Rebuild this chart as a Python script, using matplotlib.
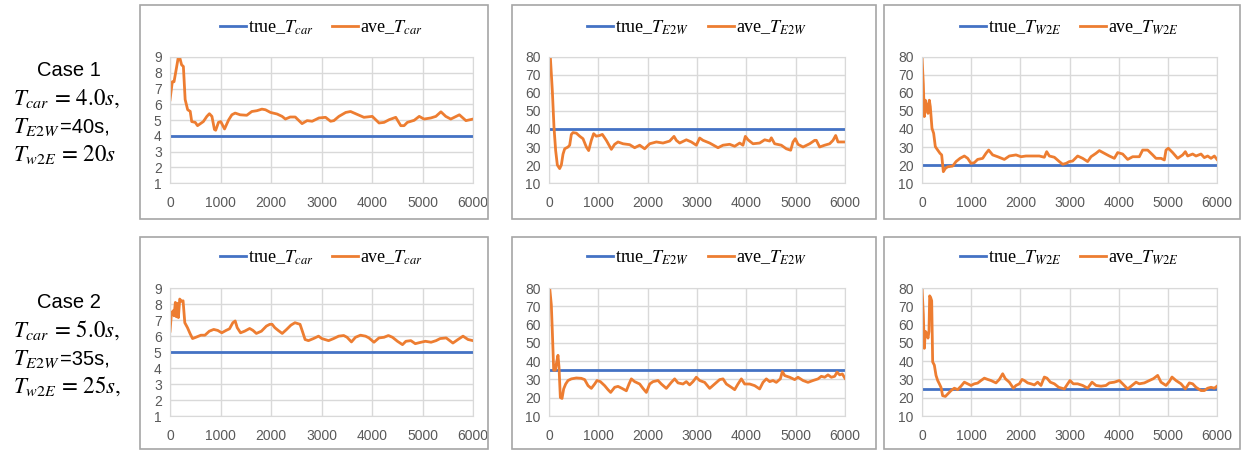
import matplotlib
matplotlib.use("Agg")
import matplotlib.pyplot as plt
from matplotlib.patches import Rectangle

plt.rcParams['mathtext.fontset'] = 'stix'

# ---- data ----
true_vals = [[4.0, 40, 20], [5.0, 35, 25]]

c1_car_x = [0, 46, 80, 120, 165, 190, 230, 265, 300, 350, 400, 430, 500, 545, 660, 730, 780, 830, 880, 905,
            960, 1005, 1080, 1160, 1225, 1290, 1390, 1520, 1620, 1720, 1820, 1890, 1990, 2120, 2220, 2285,
            2380, 2480, 2615, 2715, 2815, 2950, 3080, 3180, 3245, 3345, 3480, 3575, 3675, 3840, 4005, 4140,
            4240, 4340, 4470, 4570, 4635, 4700, 4835, 4935, 5030, 5165, 5265, 5365, 5460, 5560, 5730, 5860, 6000]
c1_car_y = [6.28, 7.43, 7.43, 8.16, 9.0, 9.0, 8.5, 8.4, 6.3, 5.65, 5.55, 4.9, 4.85, 4.64, 4.9, 5.23, 5.4, 5.23,
            4.4, 4.35, 4.85, 4.9, 4.43, 5.0, 5.33, 5.44, 5.33, 5.3, 5.54, 5.59, 5.69, 5.65, 5.48, 5.38, 5.23,
            5.06, 5.19, 5.19, 4.77, 4.96, 4.92, 5.13, 5.17, 4.92, 4.96, 5.23, 5.48, 5.54, 5.40, 5.17, 5.23, 4.81,
            4.85, 5.02, 5.17, 4.64, 4.64, 4.85, 4.98, 5.23, 5.06, 5.13, 5.23, 5.52, 5.23, 5.06, 5.33, 4.96, 5.06]

c1_e2w_x = [0, 27, 68, 101, 135, 169, 216, 250, 284, 318, 385, 419, 453, 486, 554, 622, 689, 757, 804, 858, 905,
            959, 1027, 1081, 1162, 1264, 1331, 1399, 1500, 1635, 1736, 1838, 1939, 2041, 2176, 2311, 2446, 2534,
            2581, 2649, 2784, 2885, 2986, 3054, 3122, 3257, 3426, 3527, 3662, 3764, 3865, 3932, 3980, 4034, 4135,
            4270, 4372, 4473, 4507, 4574, 4709, 4811, 4899, 4946, 4993, 5047, 5149, 5284, 5385, 5419, 5486, 5588,
            5689, 5757, 5811, 5858, 5926, 6000]
c1_e2w_y = [80, 80, 61, 41, 28, 20, 18, 20, 26, 29, 30, 31, 37, 38, 37.7, 36, 34.6, 30, 28, 33.7, 37.4, 36, 36.4,
            37, 33.7, 28.7, 31.5, 32.8, 31.8, 31.3, 29.6, 31, 29, 31.8, 32.8, 32.2, 33.3, 35.9, 33.7, 32.2, 34,
            32.8, 31, 35, 33.7, 32.2, 29.6, 31, 31.5, 30.4, 32.2, 31, 35.9, 34, 31.8, 32.2, 34, 33.3, 35.1, 31.8,
            31, 29, 28.2, 32.8, 34.6, 31.5, 30, 31.8, 33.7, 33.7, 30, 31, 31.8, 33.7, 36.4, 32.8, 32.8, 32.8]

c1_w2e_x = [0, 27, 47, 68, 95, 122, 149, 169, 203, 237, 271, 319, 366, 400, 434, 475, 522, 624, 692, 773, 861,
            929, 997, 1064, 1132, 1234, 1302, 1356, 1437, 1539, 1675, 1776, 1912, 2014, 2115, 2251, 2386, 2488,
            2536, 2590, 2692, 2793, 2861, 2929, 2997, 3064, 3166, 3268, 3369, 3437, 3539, 3607, 3708, 3810, 3912,
            3980, 4081, 4183, 4285, 4420, 4488, 4590, 4692, 4759, 4861, 4929, 4963, 5010, 5098, 5200, 5302, 5356,
            5403, 5505, 5573, 5675, 5742, 5810, 5878, 5946, 6000]
c1_w2e_y = [80, 65, 46.9, 56, 53, 48.7, 56, 52.4, 40.4, 37.6, 30.2, 28.3, 26.5, 25.6, 16.3, 18.1, 19, 19.4, 21.9,
            23.7, 25, 23.7, 20.9, 21.3, 23.1, 23.7, 26.5, 28.3, 25.6, 24.6, 23.1, 25, 25.6, 24.6, 25, 25, 25, 24.3,
            27.4, 25, 24.3, 21.9, 20.4, 20.9, 21.9, 22.2, 25, 23.7, 21.9, 24.6, 26.5, 28, 26.5, 25, 23.7, 26.9,
            26.1, 23.1, 24.6, 24.6, 28.3, 28.3, 25.6, 23.7, 23.7, 22.8, 28.3, 29.3, 26.9, 23.7, 25.6, 27.4, 25,
            26.1, 25, 26.1, 24.1, 25, 23.7, 25, 23.1]

c2_car_x = [0, 27, 60, 80, 106, 126, 146, 166, 193, 226, 259, 293, 346, 399, 446, 512, 612, 692, 778, 865, 945,
            1025, 1111, 1178, 1244, 1291, 1331, 1397, 1477, 1577, 1643, 1710, 1810, 1909, 1976, 2023, 2076, 2142,
            2222, 2309, 2395, 2475, 2575, 2621, 2675, 2741, 2841, 2941, 3007, 3140, 3240, 3340, 3440, 3506, 3593,
            3673, 3772, 3872, 3939, 4039, 4138, 4238, 4325, 4405, 4504, 4604, 4671, 4770, 4857, 4970, 5057, 5170,
            5269, 5349, 5469, 5602, 5702, 5802, 5902, 6000]
c2_car_y = [6.3, 7.36, 7.57, 7.26, 8.1, 7.2, 8.04, 7.15, 8.31, 8.17, 8.2, 6.83, 6.52, 6.14, 5.84, 5.92, 6.05, 6.05,
            6.3, 6.41, 6.35, 6.2, 6.35, 6.45, 6.83, 6.94, 6.52, 6.2, 6.3, 6.47, 6.35, 6.16, 6.3, 6.62, 6.73, 6.73,
            6.52, 6.35, 6.16, 6.41, 6.68, 6.83, 6.73, 6.3, 5.78, 5.71, 5.84, 5.99, 5.84, 5.71, 5.84, 5.99, 6.03,
            5.92, 5.63, 5.92, 6.05, 5.99, 5.88, 5.61, 5.88, 5.92, 6.03, 5.92, 5.67, 5.46, 5.67, 5.71, 5.52, 5.61,
            5.67, 5.61, 5.71, 5.84, 5.88, 5.56, 5.78, 5.99, 5.78, 5.71]

c2_e2w_x = [0, 14, 47, 68, 95, 128, 155, 182, 203, 230, 264, 297, 338, 385, 453, 554, 655, 723, 791, 858, 926, 973,
            1041, 1128, 1196, 1250, 1331, 1399, 1480, 1568, 1622, 1669, 1736, 1838, 1905, 1973, 2041, 2108, 2209,
            2277, 2378, 2480, 2547, 2615, 2716, 2784, 2851, 2919, 2986, 3054, 3155, 3257, 3358, 3459, 3527, 3595,
            3696, 3764, 3831, 3899, 3966, 4068, 4169, 4270, 4338, 4405, 4473, 4541, 4608, 4689, 4730, 4777, 4878,
            4980, 5047, 5149, 5250, 5351, 5453, 5520, 5588, 5655, 5723, 5791, 5838, 5892, 5946, 6000]
c2_e2w_y = [80, 80, 70.8, 56, 35, 35, 39.5, 43.2, 36.7, 20.1, 19.6, 24.8, 27.5, 29.4, 30.3, 30.8, 30.6, 29.9, 26.6,
            25.1, 27.5, 29.4, 28.8, 26.6, 24.4, 22.9, 25.7, 26.2, 25.1, 23.8, 27.5, 30.3, 28.8, 27.5, 25.1, 22.9,
            27.5, 28.8, 29.4, 27.5, 25.1, 28.4, 30.3, 28.1, 27.5, 28.8, 27, 28.8, 31.2, 29.4, 28.4, 25.1, 27.5, 29.9,
            30.3, 27.5, 25.7, 24.4, 27.5, 30.3, 27.5, 27.5, 26.6, 24.8, 28.4, 30.3, 28.8, 29.4, 28.4, 30.3, 34.3,
            32.1, 31.2, 29.9, 31.2, 29.4, 28.4, 29.4, 30.3, 31.7, 31.2, 32.5, 31.2, 31.7, 34, 32.5, 33, 30.6]

c2_w2e_x = [0, 27, 47, 68, 95, 122, 142, 156, 176, 197, 217, 251, 285, 319, 353, 386, 420, 475, 522, 590, 658, 725,
            793, 861, 929, 997, 1064, 1132, 1200, 1268, 1336, 1403, 1505, 1573, 1641, 1695, 1776, 1858, 1912, 1980,
            2034, 2081, 2149, 2217, 2285, 2353, 2420, 2488, 2542, 2610, 2692, 2780, 2895, 2963, 3010, 3078, 3166,
            3268, 3369, 3458, 3539, 3641, 3742, 3810, 3912, 4014, 4081, 4183, 4271, 4353, 4420, 4522, 4624, 4705,
            4793, 4861, 4963, 5031, 5085, 5166, 5268, 5356, 5437, 5505, 5573, 5675, 5742, 5810, 5878, 5946, 6000]
c2_w2e_y = [80, 65.6, 47, 56.3, 55.4, 52.6, 56.3, 75.7, 74.8, 73, 39.6, 37.8, 32.2, 29.4, 27.6, 25.7, 21.1, 20.7, 22,
            23.9, 25.2, 24.4, 26.3, 28.5, 27.6, 26.7, 27.6, 28, 29.4, 30.7, 30, 29.4, 28.1, 30, 33.1, 30.4, 28.5,
            25.2, 26.7, 27.6, 30, 29.4, 28.1, 27.6, 27, 28.5, 26.7, 31.3, 30.7, 28.5, 27.6, 25.7, 24.8, 27.6, 29.4,
            27.6, 27.6, 26.7, 25.2, 28.5, 26.7, 26.3, 26.7, 28.1, 28.5, 29.4, 27.6, 24.8, 26.7, 28.5, 27.6, 28.1,
            29.4, 30.4, 32.2, 28.5, 26.7, 28.9, 31.3, 29.4, 27.6, 24.8, 28.1, 27.6, 25.7, 23.9, 23.9, 25.2, 25.7,
            25.2, 26.3]

names = ['car', 'E2W', 'W2E']
series = [[(c1_car_x, c1_car_y), (c1_e2w_x, c1_e2w_y), (c1_w2e_x, c1_w2e_y)],
          [(c2_car_x, c2_car_y), (c2_e2w_x, c2_e2w_y), (c2_w2e_x, c2_w2e_y)]]

case_text = [["Case 1", r"$T_{car}\,=\,4.0s,$", "=40s,", r"$T_{w2E}\,=\,20s$"],
             ["Case 2", r"$T_{car}\,=\,5.0s,$", "=35s,", r"$T_{w2E}\,=\,25s,$"]]

W, H = 1246, 450
fig = plt.figure(figsize=(W / 100, H / 100), dpi=100)

# plot area pixel boxes: (left, right) and (top, bottom)
xs = [(170, 473), (549, 845), (922, 1217)]
ys = [(57, 183), (288, 416)]
boxes_x = [(140, 488), (512, 876), (884, 1240)]
boxes_y = [(5, 219), (237, 449)]

blue = '#4472C4'
orange = '#ED7D31'
grid_c = '#d9d9d9'
tick_c = '#595959'

for r in range(2):
    for c in range(3):
        bx0, bx1 = boxes_x[c]
        by0, by1 = boxes_y[r]
        fig.patches.append(Rectangle((bx0 / W, 1 - by1 / H), (bx1 - bx0) / W, (by1 - by0) / H,
                                     transform=fig.transFigure, fill=False, edgecolor='#a6a6a6', lw=1.2))
        x0, x1 = xs[c]
        y0, y1 = ys[r]
        ax = fig.add_axes([x0 / W, 1 - y1 / H, (x1 - x0) / W, (y1 - y0) / H])
        x, y = series[r][c]
        ax.plot(x, [true_vals[r][c]] * len(x), color=blue, lw=2.0, label='true_$T_{%s}$' % names[c])
        ax.plot(x, y, color=orange, lw=2.0, label='ave_$T_{%s}$' % names[c])
        ax.set_xlim(0, 6000)
        ax.set_xticks(range(0, 6001, 1000))
        if c == 0:
            ax.set_ylim(1, 9)
            ax.set_yticks(range(1, 10))
        else:
            ax.set_ylim(10, 80)
            ax.set_yticks(range(10, 81, 10))
        ax.grid(True, color=grid_c, lw=1.0)
        ax.set_axisbelow(True)
        for s in ax.spines.values():
            s.set_color(grid_c)
        ax.tick_params(length=0, labelsize=10, colors=tick_c, pad=6)
        ax.tick_params(axis='x', pad=9)
        for lab in ax.get_xticklabels() + ax.get_yticklabels():
            lab.set_family('Liberation Sans')
        ax.legend(loc='center', bbox_to_anchor=(0.5, 1.235), ncol=2, frameon=False,
                  prop={'family': 'Liberation Serif', 'size': 13}, handlelength=1.45,
                  handletextpad=0.1, columnspacing=1.0)

    # left-hand case description
    t = case_text[r]
    top = [71, 303][r]
    fig.text(69 / W, 1 - top / H, t[0], ha='center', va='center', fontsize=14.5, family='Liberation Sans')
    fig.text(13 / W, 1 - (top + 27) / H, t[1], ha='left', va='center', fontsize=16.5)
    tt = fig.text(13 / W, 1 - (top + 56) / H, r"$T_{E2W}$", ha='left', va='center', fontsize=16.5)
    fig.canvas.draw()
    bb = tt.get_window_extent()
    fig.text(bb.x1 / W, 1 - (top + 56) / H, t[2], ha='left', va='center', fontsize=14.5, family='Liberation Sans')
    fig.text(13 / W, 1 - (top + 83) / H, t[3], ha='left', va='center', fontsize=16.5)

fig.savefig('out.png', dpi=100)
